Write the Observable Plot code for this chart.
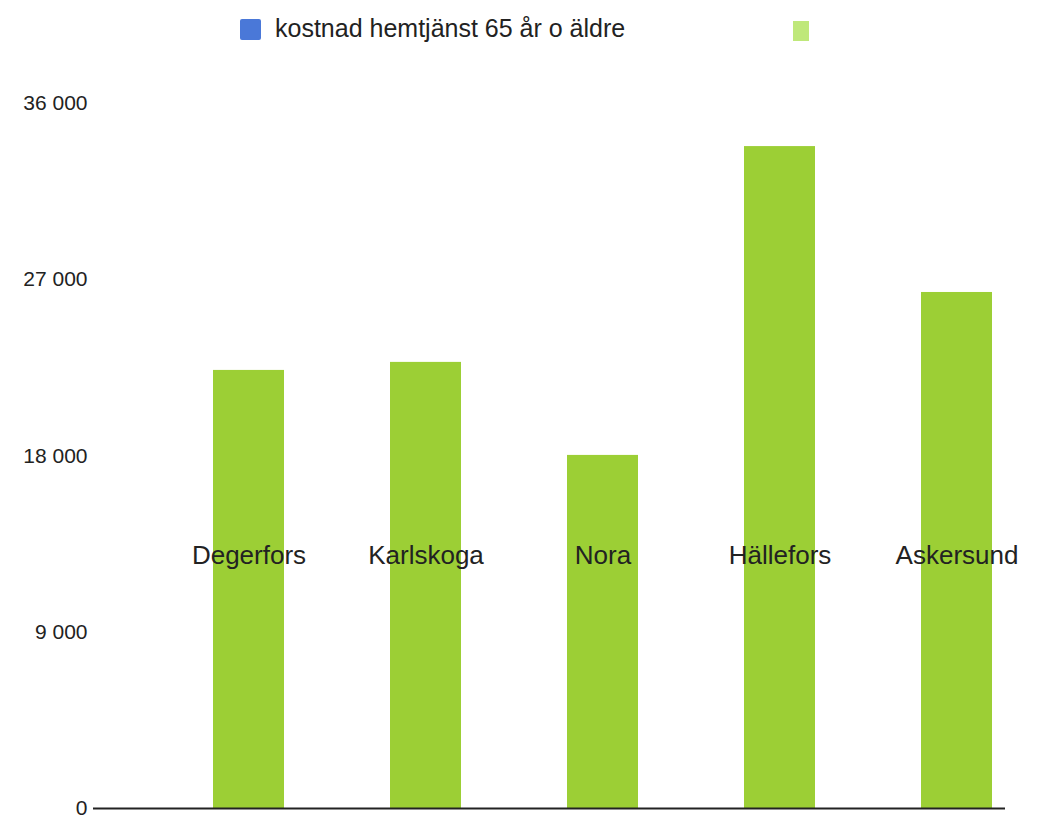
<!DOCTYPE html>
<html>
<head>
<meta charset="utf-8">
<script src="https://cdn.jsdelivr.net/npm/d3@7"></script>
<script src="https://cdn.jsdelivr.net/npm/@observablehq/plot@0.6"></script>
<style>
  html, body { margin: 0; padding: 0; background: #fff; }
  body { width: 1045px; height: 818px; overflow: hidden; font-family: "Liberation Sans", Arial, sans-serif; }
  #legend { position: relative; height: 62px; }
  .sw { position: absolute; }
  .lt { position: absolute; font-size: 25px; color: #222; white-space: nowrap; }
</style>
</head>
<body>
<div id="legend">
  <div class="sw" style="left:240px;top:19px;width:21px;height:21px;background:#4a78d8;border-radius:2px;"></div>
  <div class="lt" style="left:275px;top:14px;">kostnad hemtjänst 65 år o äldre</div>
  <div class="sw" style="left:793px;top:21px;width:16px;height:20px;background:#bfe87a;"></div>
</div>
<div id="chart"></div>
<script>
const municipalities = ["Degerfors", "Karlskoga", "Nora", "Hällefors", "Askersund"];
const costs = [22370, 22780, 18030, 33800, 26350];
const yTicks = [0, 9000, 18000, 27000, 36000];
const labelLevel = 12900;

const data = municipalities.map((m, i) => ({municipality: m, cost: costs[i]}));
const fmt = d => d3.format(",")(d).replace(/,/g, " ");

const chart = Plot.plot({
  width: 1045,
  height: 760,
  marginLeft: 93,
  marginRight: 40,
  marginTop: 41,
  marginBottom: 14,
  style: {fontFamily: "'Liberation Sans', Arial, sans-serif", background: "#fff", overflow: "visible"},
  x: {domain: municipalities, paddingInner: 0.6, paddingOuter: 0, insetLeft: 119, insetRight: 12, axis: null},
  y: {domain: [0, 36000], ticks: yTicks, tickFormat: fmt, tickSize: 0, tickPadding: 6, label: null},
  marks: [
    Plot.barY(data, {x: "municipality", y: "cost", fill: "#9ccf35"}),
    Plot.text(data, {x: "municipality", y: () => labelLevel, text: "municipality", fontSize: 26, fill: "#222"}),
    Plot.ruleY([0], {stroke: "#222", strokeWidth: 2}),
    Plot.axisY({ticks: yTicks, tickFormat: fmt, tickSize: 0, tickPadding: 6, fontSize: 21, fill: "#222", label: null})
  ]
});
document.getElementById("chart").appendChild(chart);
</script>
</body>
</html>
